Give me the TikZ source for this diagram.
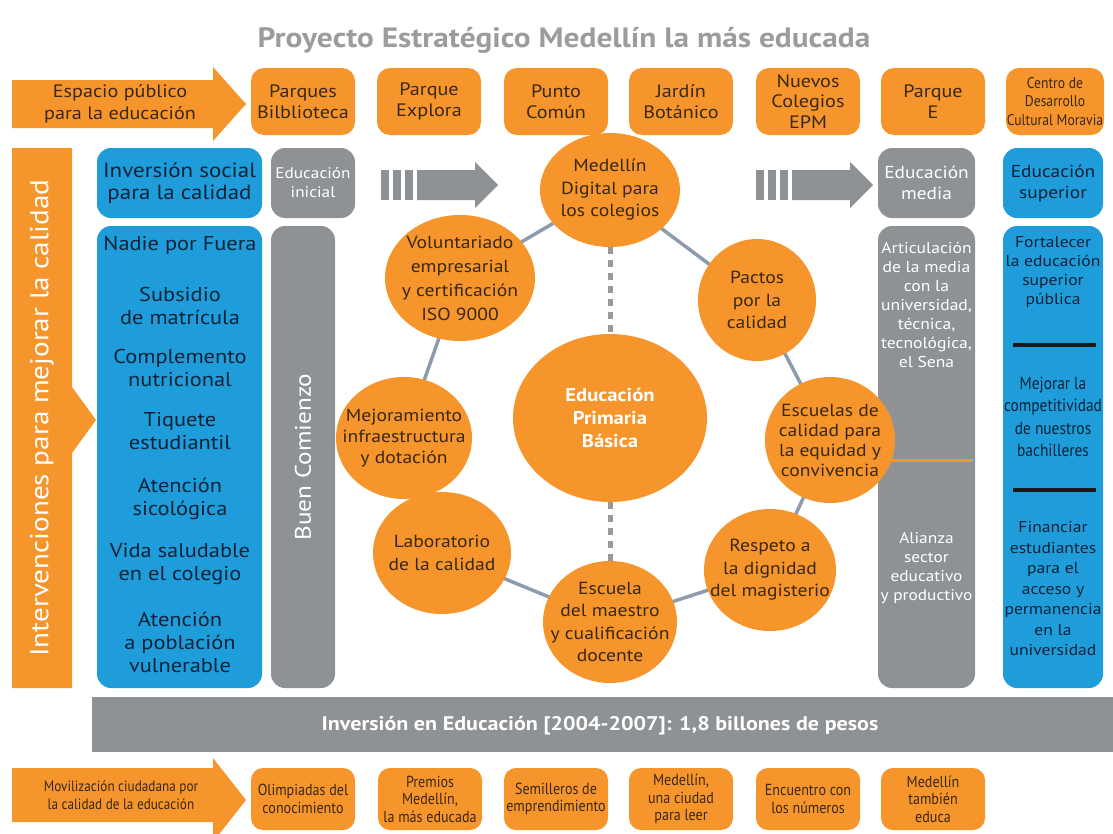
\documentclass[tikz,border=0pt]{standalone}
\usepackage{fontspec}
\setmainfont[FakeStretch=1.12]{PT Sans}
\newfontfamily\narrowf[FakeStretch=0.88]{PT Sans}
\usetikzlibrary{shapes.geometric,backgrounds}
\definecolor{orng}{HTML}{F5952B}
\definecolor{otxt}{HTML}{3A2817}
\definecolor{blu}{HTML}{1F9DDB}
\definecolor{btxt}{HTML}{0E2238}
\definecolor{gry}{HTML}{8F9295}
\definecolor{ttl}{HTML}{9C9C9C}
\definecolor{ringc}{HTML}{8D9BAC}
\definecolor{dashc}{HTML}{9A9A9A}
\newcommand{\fsz}[2]{\fontsize{#1}{#2}\selectfont}
\tikzset{
  obox/.style={fill=orng, rounded corners=13pt, minimum width=104pt, minimum height=67pt,
    align=center, text=otxt, inner sep=0pt, font=\fsz{18}{20.5}},
  sbox/.style={fill=orng, rounded corners=12pt, minimum width=104pt, minimum height=62pt,
    align=center, text=otxt, inner sep=0pt, font=\narrowf\fsz{16}{17.5}},
  bbox/.style={fill=blu, rounded corners=14pt, align=center, text=btxt, inner sep=0pt},
  gbox/.style={fill=gry, rounded corners=14pt, align=center, text=white, inner sep=0pt},
  ring/.style={ellipse, fill=orng, inner sep=0pt},
  ctext/.style={align=center, text=otxt, inner sep=0pt, font=\fsz{17.5}{22.5}},
  btext/.style={align=center, text=btxt, inner sep=0pt, font=\fsz{20}{23}},
  gtext/.style={align=center, text=white, inner sep=0pt, font=\fsz{15.7}{19}},
  rtext/.style={align=center, text=btxt, inner sep=0pt, font=\fsz{15.7}{19}},
  ringline/.style={draw=ringc, line width=3.5pt},
  dashline/.style={draw=dashc, line width=5pt, dash pattern=on 7pt off 6pt},
  sepline/.style={draw=black!90, line width=4pt}
}
\begin{document}
\begin{tikzpicture}[x=1pt,y=-1pt]
\useasboundingbox (0,0) rectangle (1113,833);

% title
\node[text=ttl, font=\bfseries\fsz{28}{32}] (title) at (564,40) {Proyecto Estratégico Medellín la más educada};

% top arrow
\fill[orng] (12,80) -- (213,80) -- (213,67) -- (246,104) -- (213,141) -- (213,128) -- (12,128) -- cycle;
\node[align=center, text=otxt, font=\fsz{18}{22}] (esp) at (120,104) {Espacio público\\para la educación};

% top boxes
\node[obox] (pb) at (303,101.5) {Parques\\Bilblioteca};
\node[obox] (pe) at (429,101.5) {Parque\\Explora};
\node[obox] (pc) at (556,101.5) {Punto\\Común};
\node[obox] (jb) at (681,101.5) {Jardín\\Botánico};
\node[obox] (nc) at (808,101.5) {Nuevos\\Colegios\\EPM};
\node[obox] (pq) at (933,101.5) {Parque\\E};
\node[obox, minimum width=98pt, font=\narrowf\fsz{15.5}{18.5}] (cd) at (1055,101.5) {Centro de\\Desarrollo\\Cultural Moravia};

% left vertical arrow
\fill[orng] (12,148) -- (72,148) -- (72,387) -- (96,420) -- (72,453) -- (72,688) -- (12,688) -- cycle;
\node[rotate=90, text=white, font=\fsz{26}{30}] (interv) at (42,418) {Intervenciones para mejorar la calidad};

% blue left column
\node[bbox, minimum width=165pt, minimum height=70pt, font=\fsz{20.5}{22}] (inv) at (179.5,183) {Inversión social\\para la calidad};
\node[bbox, minimum width=165pt, minimum height=462pt] (list) at (179.5,457) {};
\node[btext] (l1) at (180,245) {Nadie por Fuera};
\node[btext] (l2) at (180,306) {Subsidio\\de matrícula};
\node[btext] (l3) at (180,368) {Complemento\\nutricional};
\node[btext] (l4) at (180,431) {Tiquete\\estudiantil};
\node[btext] (l5) at (180,499) {Atención\\sicológica};
\node[btext] (l6) at (180,564) {Vida saludable\\en el colegio};
\node[btext] (l7) at (180,642) {Atención\\a población\\vulnerable};

% gray left
\node[gbox, minimum width=84pt, minimum height=70pt, font=\fsz{15.4}{19}] (ei) at (313,183) {Educación\\inicial};
\node[gbox, minimum width=64pt, minimum height=462pt] (bc) at (303,457) {};
\node[rotate=90, text=white, font=\fsz{22.5}{26}] (bct) at (303,457) {Buen Comienzo};

% striped gray arrows
\foreach \dx in {0,375} {
  \fill[gry] (381+\dx,170) rectangle (389+\dx,200);
  \fill[gry] (393+\dx,170) rectangle (401+\dx,200);
  \fill[gry] (405+\dx,170) rectangle (413+\dx,200);
  \fill[gry] (417+\dx,170) -- (475+\dx,170) -- (475+\dx,162) -- (498+\dx,185) -- (475+\dx,208) -- (475+\dx,200) -- (417+\dx,200) -- cycle;
}

% gray right column
\node[gbox, minimum width=97pt, minimum height=70pt, font=\fsz{17.3}{21}] (emd) at (926.5,183) {Educación\\media};
\node[gbox, minimum width=97pt, minimum height=462pt] (gcol) at (926.5,457) {};
\node[gtext] (art) at (926.5,305) {Articulación\\de la media\\con la\\universidad,\\técnica,\\tecnológica,\\el Sena};
\node[gtext, font=\fsz{15.5}{19}] (ali) at (926.5,568) {Alianza\\sector\\educativo\\y productivo};

% blue right column
\node[bbox, minimum width=100pt, minimum height=70pt, font=\fsz{17.3}{21}] (esu) at (1053,183) {Educación\\superior};
\node[bbox, minimum width=100pt, minimum height=462pt] (bcol) at (1053,457) {};
\node[rtext] (fo) at (1053,272) {Fortalecer\\la educación\\superior\\pública};
\coordinate (s1a) at (1013,345); \coordinate (s1b) at (1096,345);
\draw[sepline] (s1a) -- (s1b);
\node[rtext, font=\narrowf\fsz{17.5}{22.5}] (mej) at (1053,417) {Mejorar la\\competitividad\\de nuestros\\bachilleres};
\coordinate (s2a) at (1013,490); \coordinate (s2b) at (1096,490);
\draw[sepline] (s2a) -- (s2b);
\node[rtext, font=\fsz{15.7}{20.5}] (fin) at (1053,589) {Financiar\\estudiantes\\para el\\acceso y\\permanencia\\en la\\universidad};

% orange line across gray column
\coordinate (olA) at (830,460); \coordinate (olB) at (973,460);
\draw[orng, line width=3pt] (olA) -- (olB);

% ring ellipses
\node[ring, minimum width=140pt, minimum height=114pt] (md) at (610,190) {};
\node[ring, minimum width=150pt, minimum height=126pt] (vo) at (460,278) {};
\node[ring, minimum width=118pt, minimum height=122pt] (pa) at (757,300) {};
\node[ring, minimum width=136pt, minimum height=122pt] (mj) at (404,438) {};
\node[ring, minimum width=130pt, minimum height=126pt] (ec) at (830,440) {};
\node[ring, minimum width=138pt, minimum height=122pt] (lb) at (442,553) {};
\node[ring, minimum width=132pt, minimum height=122pt] (rd) at (770,570) {};
\node[ring, minimum width=134pt, minimum height=122pt] (em) at (610,622) {};
\node[ring, minimum width=194pt, minimum height=168pt] (cp) at (610,418) {};

\begin{pgfonlayer}{background}
  \draw[ringline] (md.center) -- (vo.center);
  \draw[ringline] (md.center) -- (pa.center);
  \draw[ringline] (pa.center) -- (ec.center);
  \draw[ringline] (ec.center) -- (rd.center);
  \draw[ringline] (rd.center) -- (em.center);
  \draw[ringline] (em.center) -- (lb.center);
  \draw[ringline] (lb.center) -- (mj.center);
  \draw[ringline] (mj.center) -- (vo.center);
\end{pgfonlayer}
\draw[dashline] (md.south) -- (cp.north);
\draw[dashline] (cp.south) -- (em.north);

\node[ctext] (mdt) at (md.center) {Medellín\\Digital para\\los colegios};
\node[ctext, font=\fsz{17.5}{24}] (vot) at (vo.center) {Voluntariado\\empresarial\\y certificación\\ISO 9000};
\node[ctext] (pat) at (pa.center) {Pactos\\por la\\calidad};
\node[ctext, font=\fsz{17.5}{21}] (mjt) at (mj.center) {Mejoramiento\\infraestructura\\y dotación};
\node[ctext, font=\fsz{17.5}{20}] (ect) at (ec.center) {Escuelas de\\calidad para\\la equidad y\\convivencia};
\node[ctext] (lbt) at (lb.center) {Laboratorio\\de la calidad};
\node[ctext] (rdt) at (rd.center) {Respeto a\\la dignidad\\del magisterio};
\node[ctext] (emt) at (em.center) {Escuela\\del maestro\\y cualificación\\docente};
\node[ctext, text=white, font=\bfseries\fsz{18.5}{23}] (cpt) at (cp.center) {Educación\\Primaria\\Básica};

% investment bar
\node[fill=gry, minimum width=1021pt, minimum height=55pt, inner sep=0pt] (bar) at (602.5,724.5) {};
\node[text=white, font=\bfseries\fsz{19.7}{22}] (bart) at (600,726) {Inversión en Educación [2004-2007]: 1,8 billones de pesos};

% bottom arrow
\fill[orng] (12,768) -- (213,768) -- (213,758) -- (246,800) -- (213,842) -- (213,822) -- (12,822) -- cycle;
\node[align=center, text=otxt, font=\narrowf\fsz{15}{18}] (mov) at (121,795) {Movilización ciudadana por\\la calidad de la educación};

% bottom boxes
\node[sbox] (ol) at (303,799) {Olimpiadas del\\conocimiento};
\node[sbox] (pm) at (430,799) {Premios\\Medellín,\\la más educada};
\node[sbox] (se) at (556,799) {Semilleros de\\emprendimiento};
\node[sbox] (mc) at (681,799) {Medellín,\\una ciudad\\para leer};
\node[sbox] (en) at (808,799) {Encuentro con\\los números};
\node[sbox] (mt) at (933,799) {Medellín\\también\\educa};
\end{tikzpicture}
\end{document}
